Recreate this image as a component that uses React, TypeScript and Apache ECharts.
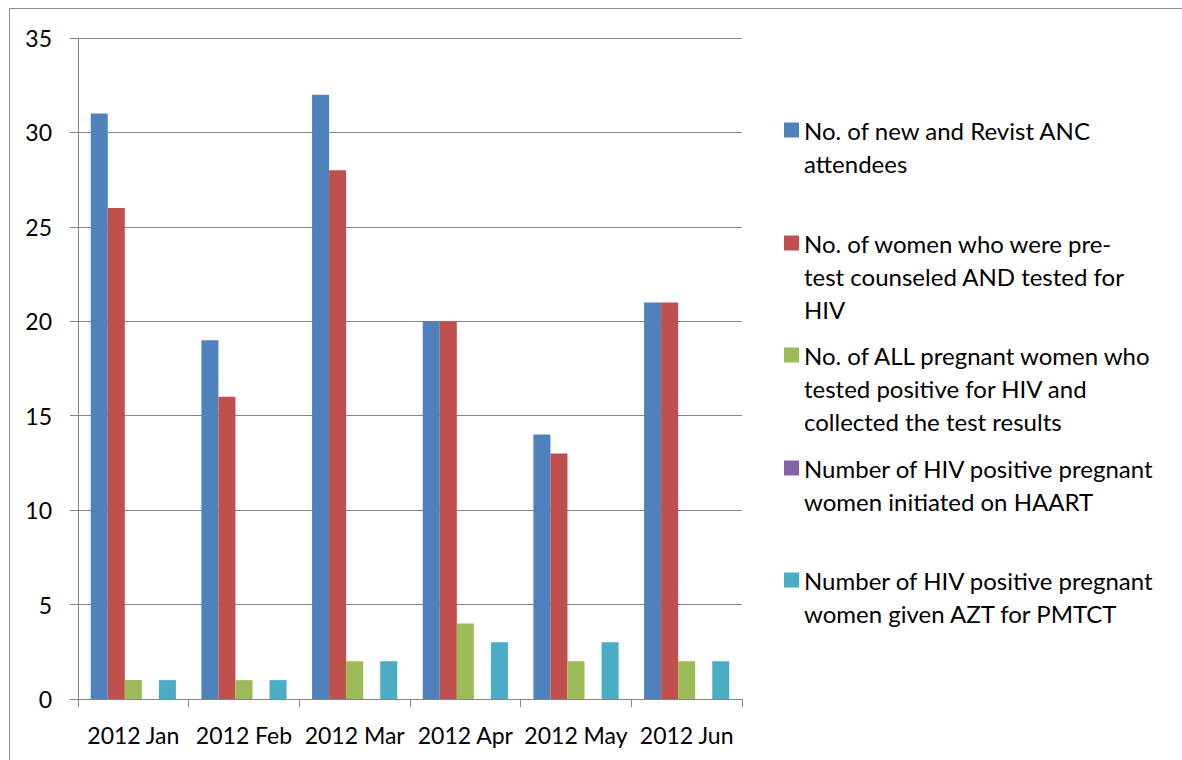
import React, { useEffect, useRef } from "react";
import * as echarts from "echarts";

const categories = ["2012 Jan", "2012 Feb", "2012 Mar", "2012 Apr", "2012 May", "2012 Jun"];
const seriesNames = [
  "No. of new and Revist ANC attendees",
  "No. of women who were pre-test counseled AND tested for HIV",
  "No. of ALL pregnant women who tested positive for HIV and collected the test results",
  "Number of HIV positive pregnant women initiated on HAART",
  "Number of HIV positive pregnant women given AZT for PMTCT",
];
const legendLines = [
  ["No. of new and Revist ANC", "attendees"],
  ["No. of women who were pre-", "test counseled AND tested for", "HIV"],
  ["No. of ALL pregnant women who", "tested positive for HIV and", "collected the test results"],
  ["Number of HIV positive pregnant", "women initiated on HAART"],
  ["Number of HIV positive pregnant", "women given AZT for PMTCT"],
];
const ancAttendees = [31, 19, 32, 20, 14, 21];
const counseledTested = [26, 16, 28, 20, 13, 21];
const testedPositive = [1, 1, 2, 4, 2, 2];
const initiatedHaart = [0, 0, 0, 0, 0, 0];
const givenAzt = [1, 1, 2, 3, 3, 2];
const colors = ["#4F81BD", "#C0504D", "#9BBB59", "#8064A2", "#4BACC6"];
const yTicks = { min: 0, max: 35, interval: 5 };

export default function App() {
  const ref = useRef<HTMLDivElement>(null);
  useEffect(() => {
    if (!ref.current) return;
    const chart = echarts.init(ref.current, undefined, { renderer: "svg" });
    const font = "Lato, 'Open Sans', sans-serif";
    const axisFont = 23;
    const legendFont = 24;
    const lineH = 33;
    const legendCenters = [130, 243, 355, 468, 580];
    const allData = [ancAttendees, counseledTested, testedPositive, initiatedHaart, givenAzt];
    const legends = seriesNames.map((name, i) => {
      const n = legendLines[i].length;
      const half = ((2 * n - 1) * lineH) / 2;
      const blank = "\n".repeat(n - 1);
      return {
        show: true,
        orient: "vertical" as const,
        left: 784,
        top: legendCenters[i] - half,
        padding: 0,
        itemWidth: 15,
        itemHeight: 15,
        itemGap: 0,
        selectedMode: false,
        data: [{ name, icon: "rect" }],
        formatter: () => blank + legendLines[i].join("\n"),
        textStyle: {
          fontFamily: font,
          fontSize: legendFont,
          color: "#000",
          lineHeight: lineH,
        },
      };
    });
    chart.setOption({
      animation: false,
      color: colors,
      legend: legends,
      graphic: [
        {
          type: "rect",
          shape: { x: 9.5, y: 8.5, width: 1300, height: 900 },
          style: { fill: "none", stroke: "#8c8c8c", lineWidth: 1 },
          silent: true,
        },
      ],
      grid: { left: 78, top: 38, right: 440, bottom: 61, containLabel: false },
      xAxis: {
        type: "category",
        data: categories,
        axisLine: { lineStyle: { color: "#868686", width: 1 } },
        axisTick: { show: true, interval: 0, length: 8, lineStyle: { color: "#868686" } },
        axisLabel: { interval: 0, fontFamily: font, fontSize: axisFont, color: "#000", margin: 24 },
      },
      yAxis: {
        type: "value",
        min: yTicks.min,
        max: yTicks.max,
        interval: yTicks.interval,
        axisLine: { show: true, lineStyle: { color: "#868686", width: 1 } },
        axisTick: { show: true, length: 8, lineStyle: { color: "#868686" } },
        splitLine: { lineStyle: { color: "#868686", width: 1 } },
        axisLabel: { fontFamily: font, fontSize: axisFont, color: "#000", margin: 26 },
      },
      series: seriesNames.map((name, i) => ({
        name,
        type: "bar",
        data: allData[i],
        barGap: "0%",
        barCategoryGap: "23%",
        itemStyle: { color: colors[i] },
      })),
    });
    return () => chart.dispose();
  }, []);
  return (
    <div
      ref={ref}
      style={{ position: "fixed", left: 0, top: 0, width: 1182, height: 760, background: "#fff" }}
    />
  );
}
